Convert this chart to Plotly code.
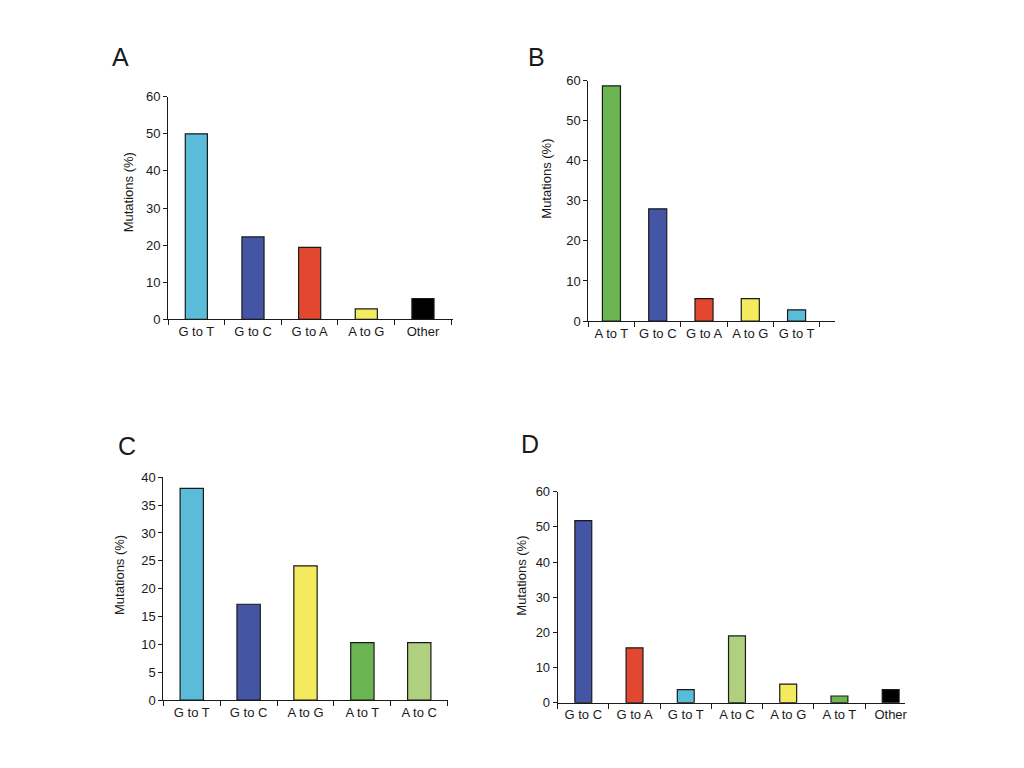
import plotly.graph_objects as go

# ---------------- data ----------------
A_cats = ["G to T", "G to C", "G to A", "A to G", "Other"]
A_vals = [50.0, 22.2, 19.4, 2.8, 5.6]

B_cats = ["A to T", "G to C", "G to A", "A to G", "G to T"]
B_vals = [58.7, 28.0, 5.6, 5.6, 2.8]

C_cats = ["G to T", "G to C", "A to G", "A to T", "A to C"]
C_vals = [38.0, 17.2, 24.1, 10.3, 10.3]

D_cats = ["G to C", "G to A", "G to T", "A to C", "A to G", "A to T", "Other"]
D_vals = [51.8, 15.6, 3.7, 19.0, 5.3, 1.9, 3.7]

panel_letters = ["A", "B", "C", "D"]
y_title = "Mutations (%)"

# ---------------- styles ----------------
COLORS = {
    "G to T": "#5BBCD9",
    "G to C": "#4355A4",
    "G to A": "#E2472F",
    "A to G": "#F4EA5E",
    "Other": "#000000",
    "A to T": "#6BB652",
    "A to C": "#AFD07F",
}
FONT = "Liberation Sans, Arial, Helvetica, sans-serif"
W, H = 1024, 768


def px_x(v):
    return v / W


def px_y(v):
    return 1 - v / H


panels = [
    dict(cats=A_cats, vals=A_vals, xp=(168.0, 453.0), yp=(96.7, 319.3), yr=60, dt=10, bw=0.39, xend=4.53),
    dict(cats=B_cats, vals=B_vals, xp=(588.3, 835.0), yp=(80.7, 321.0), yr=60, dt=10, bw=0.39, xend=4.83),
    dict(cats=C_cats, vals=C_vals, xp=(163.3, 447.7), yp=(477.3, 700.0), yr=40, dt=5, bw=0.41, xend=4.5),
    dict(cats=D_cats, vals=D_vals, xp=(557.7, 905.0), yp=(491.7, 702.7), yr=60, dt=10, bw=0.33, xend=6.28),
]

fig = go.Figure()
layout = dict(
    width=W, height=H,
    margin=dict(l=0, r=0, t=0, b=0, autoexpand=False),
    paper_bgcolor="white", plot_bgcolor="white",
    showlegend=False,
    font=dict(family=FONT, size=13, color="#1a1a1a"),
    annotations=[],
)

for i, p in enumerate(panels):
    n = "" if i == 0 else str(i + 1)
    fig.add_trace(go.Bar(
        x=p["cats"], y=p["vals"],
        marker=dict(color=[COLORS[c] for c in p["cats"]],
                    line=dict(color="#1a1a1a", width=1.2)),
        width=p["bw"],
        xaxis="x" + n, yaxis="y" + n,
        hoverinfo="x+y",
    ))
    layout["xaxis" + n] = dict(
        domain=[px_x(p["xp"][0]), px_x(p["xp"][1])],
        anchor="y" + n,
        type="category",
        range=[-0.5, p["xend"]],
        showline=True, linecolor="#1a1a1a", linewidth=1,
        ticks="outside", tickson="boundaries", ticklen=5, tickcolor="#1a1a1a",
        tickangle=0,
        showgrid=False, zeroline=False, automargin=False,
        tickfont=dict(family=FONT, size=13, color="#1a1a1a"),
        fixedrange=True,
    )
    layout["yaxis" + n] = dict(
        domain=[px_y(p["yp"][1]), px_y(p["yp"][0])],
        anchor="x" + n,
        range=[0, p["yr"]], dtick=p["dt"], tick0=0,
        showline=True, linecolor="#1a1a1a", linewidth=1,
        ticks="outside", ticklen=4, tickcolor="#1a1a1a",
        showgrid=False, zeroline=False, automargin=False,
        tickfont=dict(family=FONT, size=13, color="#1a1a1a"),
        fixedrange=True,
    )

# y-axis titles (placed as in the reference)
ytitle_pos = [(128.3, 192.0), (546.7, 179.0), (119.0, 575.0), (520.7, 576.0)]
for (x, y) in ytitle_pos:
    layout["annotations"].append(dict(
        text=y_title, x=px_x(x), y=px_y(y), xref="paper", yref="paper",
        textangle=-90, showarrow=False, xanchor="center", yanchor="middle",
        font=dict(family=FONT, size=13, color="#1a1a1a"),
    ))

# panel letters
letter_pos = [(120.8, 57.5), (536.5, 56.5), (126.5, 446.0), (530.3, 444.0)]
for letter, (x, y) in zip(panel_letters, letter_pos):
    layout["annotations"].append(dict(
        text=letter, x=px_x(x), y=px_y(y), xref="paper", yref="paper",
        showarrow=False, xanchor="center", yanchor="middle",
        font=dict(family=FONT, size=25, color="#1a1a1a"),
    ))

fig.update_layout(**layout)
fig.write_html(
    "out.html",
    config={"displayModeBar": False},
    post_script="document.body.style.margin='0';document.body.style.overflow='hidden';",
)
